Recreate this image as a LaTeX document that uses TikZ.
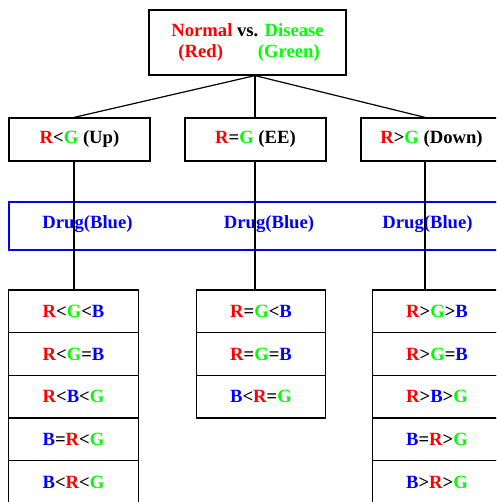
\documentclass[tikz,border=0pt]{standalone}
\usepackage{fontspec}
\setmainfont{Liberation Serif}
\newcommand{\cR}{\textcolor{red}{R}}
\newcommand{\cG}{\textcolor{green}{G}}
\newcommand{\cB}{\textcolor{blue}{B}}
\tikzset{
  box/.style={draw, line width=0.9pt, inner sep=0pt, minimum width=105.75pt, minimum height=32.25pt},
  rowbox/.style={draw, line width=0.9pt, inner sep=0pt, minimum width=97pt, minimum height=32pt},
  wire/.style={line width=0.9pt},
}
\begin{document}
\begin{tikzpicture}[x=0.75pt, y=-0.75pt, font=\fontsize{14}{16}\selectfont\bfseries]
\clip (0,0) rectangle (496,502);
\node[draw, line width=0.9pt, inner sep=0pt, minimum width=147.75pt, minimum height=48.75pt, align=center] (top) at (247.5,42.5) {\textcolor{red}{Normal} vs. \textcolor{green}{Disease}\\ \hspace{0.17em}\textcolor{red}{(Red)}\hspace{1.87em}\textcolor{green}{(Green)}};
\node[box] (up) at (79.5,139.5) {\cR<\cG{} (Up)};
\node[box] (ee) at (255.5,139.5) {\cR=\cG{} (EE)};
\node[box] (down) at (431.5,139.5) {\cR>\cG{} (Down)};
\node[draw=blue, line width=1.5pt, inner sep=0pt, minimum width=383.25pt, minimum height=36pt] (drug) at (264.5,226) {};
\node[text=blue] (drugL) at (87.5,224) {Drug(Blue)};
\node[text=blue] (drugM) at (269,224) {Drug(Blue)};
\node[text=blue] (drugR) at (427.5,224) {Drug(Blue)};
\foreach \t [count=\i] in {{\cR<\cG<\cB}, {\cR<\cG=\cB}, {\cR<\cB<\cG}, {\cB=\cR<\cG}, {\cB<\cR<\cG}}
  \node[rowbox] (upr\i) at (73.5,{311.35+42.7*(\i-1)}) {\t};
\foreach \t [count=\i] in {{\cR=\cG<\cB}, {\cR=\cG=\cB}, {\cB<\cR=\cG}}
  \node[rowbox] (eer\i) at (261,{311.35+42.7*(\i-1)}) {\t};
\foreach \t [count=\i] in {{\cR>\cG>\cB}, {\cR>\cG=\cB}, {\cR>\cB>\cG}, {\cB=\cR>\cG}, {\cB>\cR>\cG}}
  \node[rowbox] (downr\i) at (437,{311.35+42.7*(\i-1)}) {\t};
\coordinate (dL) at (74,0);
\coordinate (dM) at (255,0);
\coordinate (dR) at (425,0);
\draw[wire] (dM |- top.south) -- (dL |- up.north);
\draw[wire] (dM |- top.south) -- (dM |- ee.north);
\draw[wire] (dM |- top.south) -- (dR |- down.north);
\draw[wire] (dL |- up.south) -- (dL |- upr1.north);
\draw[wire] (dM |- ee.south) -- (dM |- eer1.north);
\draw[wire] (dR |- down.south) -- (dR |- downr1.north);
\end{tikzpicture}
\end{document}
